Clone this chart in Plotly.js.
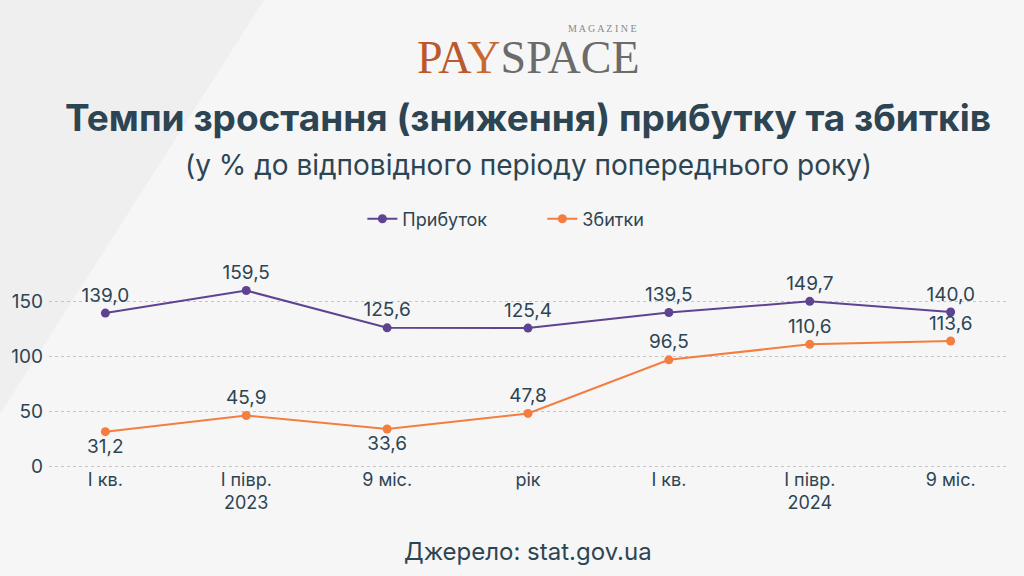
<!DOCTYPE html>
<html>
<head>
<meta charset="utf-8">
<script src="https://cdn.plot.ly/plotly-3.0.1.min.js"></script>
<style>
  html, body { margin: 0; padding: 0; background: #f7f7f8; }
  #chart { width: 1024px; height: 576px; }
</style>
</head>
<body>
<div id="chart"></div>
<script>
// periods (x axis), two lines per year
const periods = ['I кв.', 'I півр.<br>2023', '9 міс.', 'рік', 'I кв.', 'I півр.<br>2024', '9 міс.'];
const profit = [139.0, 159.5, 125.6, 125.4, 139.5, 149.7, 140.0];
const losses = [31.2, 45.9, 33.6, 47.8, 96.5, 110.6, 113.6];
const lossLabelPos = ['bottom center', 'top center', 'bottom center', 'top center', 'top center', 'top center', 'top center'];

const textColor = '#2d4552';
const fmt = v => v.toFixed(1).replace('.', ',');
const xs = periods.map((p, i) => i);

const traces = [
  {
    x: xs, y: profit,
    name: 'Прибуток',
    type: 'scatter',
    mode: 'lines+markers+text',
    line: { color: '#5e4490', width: 2 },
    marker: { color: '#5e4490', size: 9 },
    text: profit.map(fmt),
    textposition: 'top center',
    textfont: { size: 19, color: textColor, family: 'Inter' },
    cliponaxis: false
  },
  {
    x: xs, y: losses,
    name: 'Збитки',
    type: 'scatter',
    mode: 'lines+markers+text',
    line: { color: '#f47d3f', width: 2 },
    marker: { color: '#f47d3f', size: 9 },
    text: losses.map(fmt),
    textposition: lossLabelPos,
    textfont: { size: 19, color: textColor, family: 'Inter' },
    cliponaxis: false
  }
];

const layout = {
  width: 1024,
  height: 576,
  paper_bgcolor: '#f6f6f7',
  plot_bgcolor: 'rgba(0,0,0,0)',
  font: { family: 'Inter', color: textColor },
  margin: { l: 49, r: 17, t: 279, b: 99 },
  showlegend: true,
  legend: {
    orientation: 'h',
    x: 0.515, xanchor: 'center',
    y: 1.303, yanchor: 'middle',
    entrywidth: 135, entrywidthmode: 'pixels',
    bgcolor: 'rgba(0,0,0,0)',
    font: { size: 18, color: textColor }
  },
  xaxis: {
    range: [-0.4, 6.4],
    tickvals: xs,
    ticktext: periods,
    tickfont: { size: 18, color: textColor },
    showgrid: false,
    zeroline: false,
    showline: false,
    ticks: '',
    ticklabelstandoff: -10
  },
  yaxis: {
    range: [-10, 170],
    tickvals: [0, 50, 100, 150],
    tickfont: { size: 19, color: textColor },
    gridcolor: '#c4c4c4',
    griddash: 'dot',
    gridwidth: 1,
    zeroline: false,
    showline: false,
    ticks: '',
    ticklabelstandoff: 5
  },
  shapes: [
    {
      type: 'path', xref: 'paper', yref: 'paper', layer: 'below',
      path: 'M -0.06 2.45 L 0.23 2.45 L -0.06 0.25 Z',
      fillcolor: '#efeff0', line: { width: 0 }
    }
  ],
  annotations: [
    {
      xref: 'paper', yref: 'paper', x: 0.5, y: 2.12, yanchor: 'middle',
      text: '<span style="color:#b9592c">PA</span><span style="color:#c9682e">Y</span><span style="color:#6b6b6b">SPACE</span>',
      showarrow: false,
      font: { family: 'Liberation Serif', size: 46 }
    },
    {
      xref: 'paper', yref: 'paper', x: 0.578, y: 2.265, yanchor: 'middle',
      text: 'M A G A Z I N E',
      showarrow: false,
      font: { family: 'Liberation Serif', size: 10, color: '#8a8a8a' }
    },
    {
      xref: 'paper', yref: 'paper', x: 0.5, y: 1.818, yanchor: 'middle',
      text: '<b>Темпи зростання (зниження) прибутку та збитків</b>',
      showarrow: false,
      font: { family: 'Inter', size: 37, color: textColor }
    },
    {
      xref: 'paper', yref: 'paper', x: 0.5, y: 1.576, yanchor: 'middle',
      text: '(у % до відповідного періоду попереднього року)',
      showarrow: false,
      font: { family: 'Inter', size: 28, color: textColor }
    },
    {
      xref: 'paper', yref: 'paper', x: 0.5, y: -0.374, yanchor: 'middle',
      text: 'Джерело: stat.gov.ua',
      showarrow: false,
      font: { family: 'Inter', size: 24, color: textColor }
    }
  ]
};

Plotly.newPlot('chart', traces, layout, { displayModeBar: false, staticPlot: true });
</script>
</body>
</html>
